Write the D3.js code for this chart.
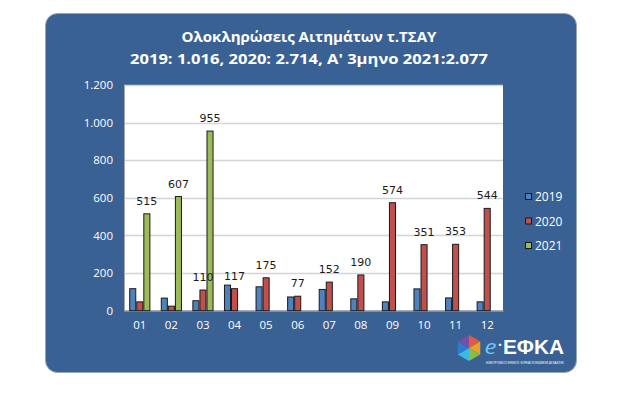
<!DOCTYPE html>
<html>
<head>
<meta charset="utf-8">
<script src="https://cdn.jsdelivr.net/npm/d3@7"></script>
<style>
  body { margin: 0; background: #fff; }
  svg { display: block; }
</style>
</head>
<body>
<div id="chart"></div>
<script>
// Chart data
const months = ["01", "02", "03", "04", "05", "06", "07", "08", "09", "10", "11", "12"];
const series = ["2019", "2020", "2021"];
const values2019 = [117, 67, 53, 136, 127, 73, 113, 63, 47, 116, 68, 47];
const values2020 = [47, 24, 110, 117, 175, 77, 152, 190, 574, 351, 353, 544];
const values2021 = [515, 607, 955, null, null, null, null, null, null, null, null, null];
const labelled2020 = [false, false, true, true, true, true, true, true, true, true, true, true];
const yTicks = [0, 200, 400, 600, 800, 1000, 1200];
const titleLines = ["Ολοκληρώσεις Αιτημάτων τ.ΤΣΑΥ", "2019: 1.016, 2020: 2.714, Α' 3μηνο 2021:2.077"];

const width = 628, height = 398;
const colors = { "2019": "#4F81BD", "2020": "#C0504D", "2021": "#9BBB59" };
const fmt = d3.formatLocale({ decimal: ",", thousands: ".", grouping: [3], currency: ["", "€"] }).format(",");

const svg = d3.select("#chart").append("svg")
  .attr("width", width)
  .attr("height", height);

// Blue panel
svg.append("rect")
  .attr("x", 45.5).attr("y", 13.5)
  .attr("width", 531).attr("height", 359)
  .attr("rx", 12)
  .attr("fill", "#3A6194")
  .attr("stroke", "#9aa6b6");

// Title
svg.selectAll(".title")
  .data(titleLines)
  .join("text")
  .attr("class", "title")
  .attr("x", 309)
  .attr("y", (d, i) => 42 + i * 22)
  .attr("text-anchor", "middle")
  .attr("font-family", "'Open Sans', sans-serif")
  .attr("font-weight", "bold")
  .attr("font-size", 15)
  .attr("fill", "#fff")
  .attr("textLength", (d, i) => i === 0 ? 255 : 358)
  .attr("lengthAdjust", "spacingAndGlyphs")
  .text(d => d);

// Plot area
const plot = { left: 124, right: 503, top: 85, bottom: 310.7 };

const x0 = d3.scaleBand()
  .domain(months)
  .range([plot.left, plot.right])
  .paddingInner(0.33)
  .paddingOuter(0.165);

const x1 = d3.scaleBand()
  .domain(series)
  .range([0, x0.bandwidth()]);

const y = d3.scaleLinear()
  .domain([0, 1200])
  .range([plot.bottom, plot.top]);

svg.append("rect")
  .attr("x", plot.left).attr("y", plot.top)
  .attr("width", plot.right - plot.left)
  .attr("height", plot.bottom - plot.top)
  .attr("fill", "#fff");

// Gridlines
svg.append("g")
  .selectAll("line")
  .data(yTicks.slice(1))
  .join("line")
  .attr("x1", plot.left).attr("x2", plot.right)
  .attr("y1", d => Math.round(y(d)) + 0.5)
  .attr("y2", d => Math.round(y(d)) + 0.5)
  .attr("stroke", "#D4D4D4")
  .attr("stroke-width", 1.5);

// Y axis
const yAxis = svg.append("g")
  .attr("transform", `translate(${plot.left},0)`)
  .call(d3.axisLeft(y).tickValues(yTicks).tickFormat(fmt).tickSize(0).tickPadding(11));
yAxis.select(".domain").attr("stroke", "#A6A6A6");
yAxis.selectAll("text")
  .attr("fill", "#fff")
  .attr("font-family", "'Open Sans', sans-serif")
  .attr("font-size", 11.5);

// X axis
const xAxis = svg.append("g")
  .attr("transform", `translate(0,${plot.bottom})`)
  .call(d3.axisBottom(x0).tickSize(0).tickPadding(10));
xAxis.select(".domain").attr("stroke", "#8C8C8C").attr("stroke-width", 1.5);
xAxis.selectAll("text")
  .attr("fill", "#fff")
  .attr("font-family", "'Open Sans', sans-serif")
  .attr("font-size", 11.5);

// Bars
const rows = months.map((m, i) => ({
  month: m,
  bars: [
    { key: "2019", value: values2019[i], label: false },
    { key: "2020", value: values2020[i], label: labelled2020[i] },
    { key: "2021", value: values2021[i], label: values2021[i] != null }
  ].filter(b => b.value != null)
}));

const groups = svg.append("g")
  .selectAll("g")
  .data(rows)
  .join("g")
  .attr("transform", d => `translate(${x0(d.month)},0)`);

groups.selectAll("rect")
  .data(d => d.bars)
  .join("rect")
  .attr("x", d => x1(d.key) + 0.5)
  .attr("y", d => y(d.value))
  .attr("width", x1.bandwidth() - 1)
  .attr("height", d => y(0) - y(d.value))
  .attr("fill", d => colors[d.key])
  .attr("stroke", "#1a1a1a")
  .attr("stroke-width", 1);

groups.selectAll("text")
  .data(d => d.bars.filter(b => b.label))
  .join("text")
  .attr("x", d => x1(d.key) + x1.bandwidth() / 2)
  .attr("y", d => y(d.value) - 9)
  .attr("text-anchor", "middle")
  .attr("font-family", "'DejaVu Sans', sans-serif")
  .attr("font-size", 11)
  .attr("fill", "#1a1a1a")
  .text(d => fmt(d.value));

// Legend
const legend = svg.append("g")
  .selectAll("g")
  .data(series)
  .join("g")
  .attr("transform", (d, i) => `translate(525,${197 + i * 24.5})`);

legend.append("rect")
  .attr("x", 0.5).attr("y", -3.5)
  .attr("width", 6).attr("height", 6)
  .attr("fill", d => colors[d])
  .attr("stroke", "#1a1a1a");

legend.append("text")
  .attr("x", 10)
  .attr("dy", "0.35em")
  .attr("font-family", "'Open Sans', sans-serif")
  .attr("font-size", 12)
  .attr("fill", "#fff")
  .text(d => d);

// e-EFKA logo
const logo = svg.append("g").attr("transform", "translate(469,348)");
const hexColors = ["#F15A3A", "#F8A623", "#8DC63F", "#3CC0EC", "#2A7FD4", "#7B4FA6"];
const r = 13;
hexColors.forEach((c, i) => {
  const a0 = -Math.PI / 2 + i * Math.PI / 3;
  const a1 = a0 + Math.PI / 3;
  logo.append("path")
    .attr("d", `M0,0L${r * Math.cos(a0)},${r * Math.sin(a0)}L${r * Math.cos(a1)},${r * Math.sin(a1)}Z`)
    .attr("fill", c)
    .attr("opacity", 0.92);
});
logo.append("text")
  .attr("x", 15.5).attr("y", 6)
  .attr("font-family", "'Open Sans', sans-serif")
  .attr("font-style", "italic")
  .attr("font-size", 20)
  .attr("fill", "#6EC6F2")
  .attr("textLength", 12)
  .attr("lengthAdjust", "spacingAndGlyphs")
  .text("e");
logo.append("text")
  .attr("x", 29).attr("y", 2)
  .attr("font-family", "'Open Sans', sans-serif")
  .attr("font-size", 14)
  .attr("font-weight", "bold")
  .attr("fill", "#fff")
  .text("·");
logo.append("text")
  .attr("x", 34).attr("y", 6)
  .attr("font-family", "'Liberation Sans', sans-serif")
  .attr("font-size", 19.5)
  .attr("font-weight", "bold")
  .attr("fill", "#fff")
  .attr("textLength", 61)
  .attr("lengthAdjust", "spacingAndGlyphs")
  .text("ΕΦΚΑ");
logo.append("text")
  .attr("x", 17).attr("y", 15.5)
  .attr("font-family", "'Liberation Sans', sans-serif")
  .attr("font-size", 3)
  .attr("fill", "#fff")
  .attr("textLength", 78)
  .attr("lengthAdjust", "spacingAndGlyphs")
  .text("ΗΛΕΚΤΡΟΝΙΚΟΣ ΕΘΝΙΚΟΣ ΦΟΡΕΑΣ ΚΟΙΝΩΝΙΚΗΣ ΑΣΦΑΛΙΣΗΣ");
</script>
</body>
</html>
